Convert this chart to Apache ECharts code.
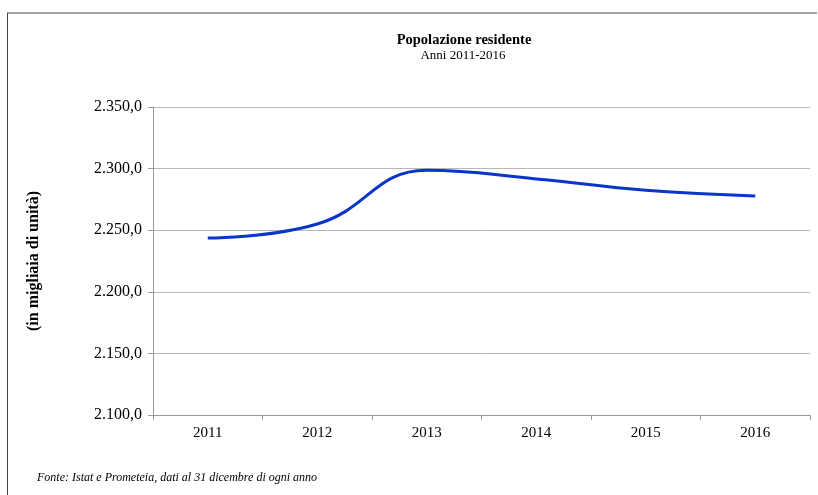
<!DOCTYPE html>
<html>
<head>
<meta charset="utf-8">
<script src="https://cdn.jsdelivr.net/npm/echarts@6/dist/echarts.min.js"></script>
<style>html,body{margin:0;padding:0;background:#fff}#c{width:818px;height:495px}</style>
</head>
<body>
<div id="c"></div>
<script>
var years = ['2011', '2012', '2013', '2014', '2015', '2016'];
var population = [2243.7, 2255.0, 2298.6, 2291.6, 2282.4, 2277.8];
var titleText = 'Popolazione residente';
var subtitleText = 'Anni 2011-2016';
var yAxisTitle = '(in migliaia di unità)';
var sourceText = 'Fonte: Istat e Prometeia, dati al 31 dicembre di ogni anno';

function fmt(v) {
  var s = v.toFixed(1).split('.');
  var i = s[0].replace(/\B(?=(\d{3})+(?!\d))/g, '.');
  return i + ',' + s[1];
}

var chart = echarts.init(document.getElementById('c'));
var serif = '"Liberation Serif", "Times New Roman", serif';
chart.setOption({
  animation: false,
  backgroundColor: '#fff',
  grid: {left: 153, right: 8, top: 107, bottom: 80},
  xAxis: {
    type: 'category',
    data: years,
    boundaryGap: true,
    axisLine: {lineStyle: {color: '#999', width: 1}},
    axisTick: {show: true, length: 5, lineStyle: {color: '#999'}},
    axisLabel: {fontFamily: serif, fontSize: 15, color: '#000', margin: 11}
  },
  yAxis: {
    type: 'value',
    min: 2100,
    max: 2350,
    interval: 50,
    name: yAxisTitle,
    nameLocation: 'middle',
    nameRotate: 90,
    nameGap: 111,
    nameTextStyle: {fontFamily: serif, fontSize: 16, fontWeight: 'bold', color: '#000'},
    axisLine: {show: true, lineStyle: {color: '#999', width: 1}},
    axisTick: {show: true, length: 5, lineStyle: {color: '#999'}},
    axisLabel: {fontFamily: serif, fontSize: 16, color: '#000', margin: 11, formatter: fmt},
    splitLine: {lineStyle: {color: '#b8b8b8', width: 1}}
  },
  series: [{
    type: 'line',
    data: population,
    smooth: 0.45,
    symbol: 'none',
    lineStyle: {color: '#0a35c8', width: 3}
  }],
  graphic: [
    {type: 'line', shape: {x1: 7, y1: 13, x2: 817, y2: 13}, style: {stroke: '#444', lineWidth: 1}},
    {type: 'line', shape: {x1: 7.5, y1: 13, x2: 7.5, y2: 495}, style: {stroke: '#444', lineWidth: 1}},
    {type: 'text', x: 464, y: 40, style: {text: titleText, font: 'bold 14.5px "Liberation Serif", serif', fill: '#000', align: 'center', verticalAlign: 'middle'}},
    {type: 'text', x: 463, y: 56, style: {text: subtitleText, font: '13px "Liberation Serif", serif', fill: '#000', align: 'center', verticalAlign: 'middle'}},
    {type: 'text', x: 37, y: 478, style: {text: sourceText, font: 'italic 12px "Liberation Serif", serif', fill: '#000', align: 'left', verticalAlign: 'middle'}}
  ]
});
</script>
</body>
</html>
